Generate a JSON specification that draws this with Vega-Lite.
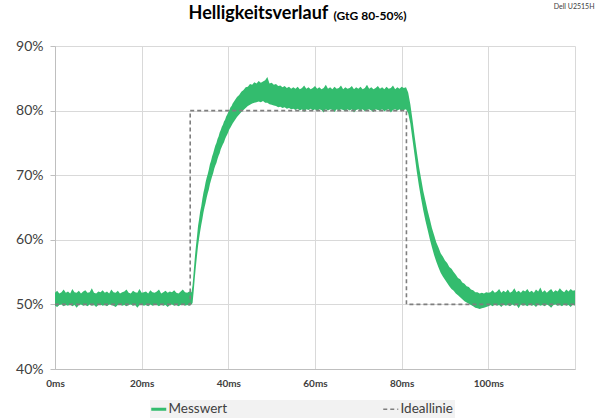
{
  "$schema": "https://vega.github.io/schema/vega-lite/v6.json",
  "width": 520,
  "height": 323,
  "autosize": {"type": "none"},
  "padding": {"left": 55, "top": 46, "right": 25, "bottom": 51},
  "background": "white",
  "config": {
    "view": {"stroke": null},
    "font": "Lato"
  },
  "title": {
    "text": "Helligkeitsverlauf",
    "anchor": "start",
    "dx": 173,
    "dy": 29,
    "font": "Lato",
    "fontSize": 18,
    "fontWeight": "bold",
    "color": "#000000",
    "offset": 8
  },
  "datasets": {
    "mess": [
      {"t":0,"lo":49.8,"hi":51.8},{"t":0.5,"lo":49.6,"hi":52.1},{"t":1,"lo":49.9,"hi":51.7},{"t":1.5,"lo":50.0,"hi":51.9},
      {"t":2,"lo":49.7,"hi":52.3},{"t":2.5,"lo":49.9,"hi":51.8},{"t":3,"lo":49.8,"hi":52.0},{"t":3.5,"lo":50.0,"hi":51.7},
      {"t":4,"lo":49.7,"hi":52.4},{"t":4.5,"lo":49.9,"hi":51.9},{"t":5,"lo":49.5,"hi":51.8},{"t":5.5,"lo":49.9,"hi":52.1},
      {"t":6,"lo":50.0,"hi":51.7},{"t":6.5,"lo":49.8,"hi":52.0},{"t":7,"lo":49.9,"hi":52.2},{"t":7.5,"lo":49.7,"hi":51.8},
      {"t":8,"lo":50.0,"hi":51.9},{"t":8.5,"lo":49.8,"hi":52.5},{"t":9,"lo":49.9,"hi":51.8},{"t":9.5,"lo":49.6,"hi":51.7},
      {"t":10,"lo":49.9,"hi":52.0},{"t":10.5,"lo":50.0,"hi":51.9},{"t":11,"lo":49.8,"hi":52.2},{"t":11.5,"lo":49.9,"hi":51.8},
      {"t":12,"lo":49.7,"hi":52.0},{"t":12.5,"lo":50.0,"hi":51.7},{"t":13,"lo":49.9,"hi":52.3},{"t":13.5,"lo":49.8,"hi":51.9},
      {"t":14,"lo":49.6,"hi":51.8},{"t":14.5,"lo":49.9,"hi":52.1},{"t":15,"lo":50.0,"hi":51.7},{"t":15.5,"lo":49.8,"hi":51.9},
      {"t":16,"lo":49.9,"hi":52.0},{"t":16.5,"lo":49.7,"hi":52.3},{"t":17,"lo":49.9,"hi":51.8},{"t":17.5,"lo":50.0,"hi":51.7},
      {"t":18,"lo":49.8,"hi":52.1},{"t":18.5,"lo":49.9,"hi":51.9},{"t":19,"lo":49.5,"hi":51.8},{"t":19.5,"lo":49.9,"hi":52.4},
      {"t":20,"lo":50.0,"hi":51.8},{"t":20.5,"lo":49.8,"hi":51.9},{"t":21,"lo":49.9,"hi":52.0},{"t":21.5,"lo":49.7,"hi":51.7},
      {"t":22,"lo":50.0,"hi":52.2},{"t":22.5,"lo":49.8,"hi":51.9},{"t":23,"lo":49.9,"hi":51.8},{"t":23.5,"lo":49.9,"hi":52.0},
      {"t":24,"lo":49.7,"hi":52.3},{"t":24.5,"lo":50.0,"hi":51.7},{"t":25,"lo":49.8,"hi":51.9},{"t":25.5,"lo":49.9,"hi":52.1},
      {"t":26,"lo":49.6,"hi":51.8},{"t":26.5,"lo":49.9,"hi":52.0},{"t":27,"lo":50.0,"hi":51.9},{"t":27.5,"lo":49.8,"hi":52.2},
      {"t":28,"lo":49.9,"hi":51.8},{"t":28.5,"lo":49.7,"hi":51.7},{"t":29,"lo":49.9,"hi":52.0},{"t":29.5,"lo":50.0,"hi":52.3},
      {"t":30,"lo":49.8,"hi":51.9},{"t":30.5,"lo":49.9,"hi":51.8},{"t":31,"lo":49.8,"hi":52.0},{"t":31.5,"lo":50.0,"hi":51.9},
      {"t":31.75,"lo":50.2,"hi":53.0},{"t":32,"lo":52.0,"hi":55.0},{"t":32.25,"lo":54.0,"hi":57.1},{"t":32.5,"lo":55.8,"hi":58.9},
      {"t":32.75,"lo":57.4,"hi":60.4},{"t":33,"lo":59.0,"hi":62.1},{"t":33.25,"lo":60.2,"hi":63.2},{"t":33.5,"lo":61.3,"hi":64.4},
      {"t":33.75,"lo":62.3,"hi":65.2},{"t":34,"lo":63.2,"hi":66.3},{"t":34.25,"lo":64.2,"hi":67.3},{"t":34.5,"lo":65.0,"hi":68.0},
      {"t":34.75,"lo":65.7,"hi":68.9},{"t":35,"lo":66.5,"hi":69.6},{"t":35.25,"lo":67.2,"hi":70.2},{"t":35.5,"lo":67.8,"hi":70.9},
      {"t":35.75,"lo":68.6,"hi":71.7},{"t":36,"lo":69.2,"hi":72.2},{"t":36.25,"lo":69.8,"hi":72.9},{"t":36.5,"lo":70.3,"hi":73.4},
      {"t":36.75,"lo":71.0,"hi":74.0},{"t":37,"lo":71.5,"hi":74.6},{"t":37.25,"lo":71.9,"hi":75.0},{"t":37.5,"lo":72.5,"hi":75.6},
      {"t":37.75,"lo":73.0,"hi":76.0},{"t":38,"lo":73.4,"hi":76.6},{"t":38.25,"lo":74.0,"hi":77.0},{"t":38.5,"lo":74.4,"hi":77.5},
      {"t":38.75,"lo":74.8,"hi":77.8},{"t":39,"lo":75.1,"hi":78.3},{"t":39.25,"lo":75.6,"hi":78.6},{"t":39.5,"lo":76.0,"hi":79.1},
      {"t":39.75,"lo":76.3,"hi":79.4},{"t":40,"lo":76.7,"hi":79.8},{"t":40.25,"lo":77.1,"hi":80.1},{"t":40.5,"lo":77.4,"hi":80.5},
      {"t":40.75,"lo":77.7,"hi":80.7},{"t":41,"lo":78.0,"hi":81.1},{"t":41.5,"lo":78.5,"hi":81.6},{"t":42,"lo":79.0,"hi":82.1},
      {"t":42.5,"lo":79.4,"hi":82.4},{"t":43,"lo":79.8,"hi":82.9},{"t":43.5,"lo":80.1,"hi":83.2},{"t":44,"lo":80.4,"hi":83.6},
      {"t":44.5,"lo":80.7,"hi":83.7},{"t":45,"lo":80.9,"hi":84.1},{"t":45.5,"lo":81.1,"hi":84.0},{"t":46,"lo":81.2,"hi":84.4},
      {"t":46.5,"lo":81.3,"hi":84.2},{"t":47,"lo":81.4,"hi":84.6},{"t":47.5,"lo":81.3,"hi":84.3},{"t":48,"lo":81.5,"hi":84.5},
      {"t":48.5,"lo":81.2,"hi":84.7},{"t":49,"lo":81.2,"hi":85.2},{"t":49.5,"lo":81.0,"hi":84.2},{"t":50,"lo":80.9,"hi":84.3},
      {"t":50.5,"lo":80.8,"hi":84.0},{"t":51,"lo":80.7,"hi":84.1},{"t":51.5,"lo":80.5,"hi":83.8},{"t":52,"lo":80.6,"hi":83.9},
      {"t":52.5,"lo":80.4,"hi":83.6},{"t":53,"lo":80.5,"hi":83.8},{"t":53.5,"lo":80.3,"hi":83.5},{"t":54,"lo":80.4,"hi":83.7},
      {"t":54.5,"lo":80.2,"hi":83.4},{"t":55,"lo":80.3,"hi":83.6},
      {"t":55.5,"lo":80.1,"hi":83.4},{"t":56,"lo":80.3,"hi":83.7},{"t":56.5,"lo":80.0,"hi":83.3},{"t":57,"lo":80.2,"hi":83.5},
      {"t":57.5,"lo":79.8,"hi":83.9},{"t":58,"lo":80.2,"hi":83.4},{"t":58.5,"lo":80.1,"hi":83.6},{"t":59,"lo":80.3,"hi":83.3},
      {"t":59.5,"lo":80.0,"hi":83.5},{"t":60,"lo":80.2,"hi":83.8},{"t":60.5,"lo":79.9,"hi":83.4},{"t":61,"lo":80.2,"hi":83.6},
      {"t":61.5,"lo":80.1,"hi":83.3},{"t":62,"lo":79.7,"hi":83.5},{"t":62.5,"lo":80.2,"hi":84.0},{"t":63,"lo":80.0,"hi":83.4},
      {"t":63.5,"lo":80.2,"hi":83.6},{"t":64,"lo":80.1,"hi":83.3},{"t":64.5,"lo":79.8,"hi":83.7},{"t":65,"lo":80.2,"hi":83.4},
      {"t":65.5,"lo":80.0,"hi":83.5},{"t":66,"lo":80.2,"hi":83.9},{"t":66.5,"lo":80.1,"hi":83.3},{"t":67,"lo":79.9,"hi":83.6},
      {"t":67.5,"lo":80.2,"hi":83.4},{"t":68,"lo":80.0,"hi":83.5},{"t":68.5,"lo":80.2,"hi":83.8},{"t":69,"lo":79.7,"hi":83.3},
      {"t":69.5,"lo":80.1,"hi":83.6},{"t":70,"lo":80.2,"hi":83.4},{"t":70.5,"lo":80.0,"hi":83.7},{"t":71,"lo":80.2,"hi":83.3},
      {"t":71.5,"lo":79.9,"hi":83.5},{"t":72,"lo":80.1,"hi":84.0},{"t":72.5,"lo":80.2,"hi":83.4},{"t":73,"lo":80.0,"hi":83.6},
      {"t":73.5,"lo":79.8,"hi":83.3},{"t":74,"lo":80.2,"hi":83.5},{"t":74.5,"lo":80.1,"hi":83.8},{"t":75,"lo":80.0,"hi":83.4},
      {"t":75.5,"lo":80.2,"hi":83.6},{"t":76,"lo":79.9,"hi":83.3},{"t":76.5,"lo":80.1,"hi":83.7},{"t":77,"lo":80.2,"hi":83.4},
      {"t":77.5,"lo":79.7,"hi":83.5},{"t":78,"lo":80.1,"hi":83.9},{"t":78.5,"lo":80.2,"hi":83.3},{"t":79,"lo":80.0,"hi":83.6},
      {"t":79.5,"lo":80.2,"hi":83.4},{"t":80,"lo":79.9,"hi":83.7},{"t":80.5,"lo":80.1,"hi":83.5},{"t":81,"lo":80.2,"hi":83.6},
      {"t":81.5,"lo":79.6,"hi":82.8},{"t":82,"lo":78.0,"hi":81.0},{"t":82.5,"lo":75.5,"hi":78.6},{"t":83,"lo":73.0,"hi":76.0},
      {"t":83.5,"lo":70.5,"hi":73.6},{"t":84,"lo":68.3,"hi":71.3},{"t":84.5,"lo":66.3,"hi":69.4},{"t":85,"lo":64.5,"hi":67.5},
      {"t":85.5,"lo":62.9,"hi":66.0},{"t":86,"lo":61.5,"hi":64.5},{"t":86.5,"lo":60.1,"hi":63.2},{"t":87,"lo":58.8,"hi":61.8},
      {"t":87.5,"lo":57.6,"hi":60.7},{"t":88,"lo":56.6,"hi":59.6},{"t":88.5,"lo":55.7,"hi":58.8},{"t":89,"lo":54.9,"hi":57.9},
      {"t":89.5,"lo":54.3,"hi":57.4},{"t":90,"lo":53.8,"hi":56.8},{"t":90.5,"lo":53.3,"hi":56.4},{"t":91,"lo":52.8,"hi":55.8},
      {"t":91.5,"lo":52.4,"hi":55.5},{"t":92,"lo":52.1,"hi":55.0},{"t":92.5,"lo":51.7,"hi":54.6},{"t":93,"lo":51.4,"hi":54.1},
      {"t":93.5,"lo":51.1,"hi":53.9},{"t":94,"lo":50.8,"hi":53.4},{"t":94.5,"lo":50.5,"hi":53.2},{"t":95,"lo":50.3,"hi":52.8},
      {"t":95.5,"lo":50.1,"hi":52.7},{"t":96,"lo":49.9,"hi":52.3},{"t":96.5,"lo":49.7,"hi":52.2},{"t":97,"lo":49.5,"hi":51.9},
      {"t":97.5,"lo":49.4,"hi":51.9},{"t":98,"lo":49.3,"hi":51.7},{"t":98.5,"lo":49.4,"hi":51.8},{"t":99,"lo":49.5,"hi":51.7},
      {"t":99.5,"lo":49.6,"hi":51.9},{"t":100,"lo":49.7,"hi":51.8},
      {"t":100.5,"lo":49.9,"hi":51.9},{"t":101,"lo":49.7,"hi":52.2},{"t":101.5,"lo":50.0,"hi":51.8},{"t":102,"lo":49.8,"hi":52.0},
      {"t":102.5,"lo":49.9,"hi":52.4},{"t":103,"lo":49.6,"hi":51.8},{"t":103.5,"lo":50.0,"hi":52.1},{"t":104,"lo":49.8,"hi":51.9},
      {"t":104.5,"lo":49.9,"hi":52.3},{"t":105,"lo":49.7,"hi":51.8},{"t":105.5,"lo":50.0,"hi":52.0},{"t":106,"lo":49.8,"hi":52.5},
      {"t":106.5,"lo":49.9,"hi":51.9},{"t":107,"lo":49.4,"hi":52.1},{"t":107.5,"lo":50.0,"hi":51.8},{"t":108,"lo":49.8,"hi":52.2},
      {"t":108.5,"lo":49.9,"hi":52.0},{"t":109,"lo":49.7,"hi":52.4},{"t":109.5,"lo":50.0,"hi":51.9},{"t":110,"lo":49.8,"hi":52.1},
      {"t":110.5,"lo":49.9,"hi":51.8},{"t":111,"lo":49.6,"hi":52.3},{"t":111.5,"lo":50.0,"hi":52.0},{"t":112,"lo":49.8,"hi":52.6},
      {"t":112.5,"lo":49.9,"hi":51.9},{"t":113,"lo":49.7,"hi":52.2},{"t":113.5,"lo":50.0,"hi":51.8},{"t":114,"lo":49.8,"hi":52.1},
      {"t":114.5,"lo":49.5,"hi":52.4},{"t":115,"lo":49.9,"hi":51.9},{"t":115.5,"lo":50.0,"hi":52.2},{"t":116,"lo":49.8,"hi":52.0},
      {"t":116.5,"lo":49.9,"hi":52.5},{"t":117,"lo":49.7,"hi":52.1},{"t":117.5,"lo":50.0,"hi":51.9},{"t":118,"lo":49.8,"hi":52.3},
      {"t":118.5,"lo":49.9,"hi":52.0},{"t":119,"lo":49.6,"hi":52.4},{"t":119.5,"lo":50.0,"hi":52.1},{"t":120,"lo":49.8,"hi":52.2}
    ],
    "ideal": [
      {"t":0,"v":50,"o":1},{"t":31.2,"v":50,"o":2},{"t":31.2,"v":80,"o":3},
      {"t":81.1,"v":80,"o":4},{"t":81.1,"v":50,"o":5},{"t":120,"v":50,"o":6}
    ]
  },
  "resolve": {"axis": {"x": "independent", "y": "independent"}},
  "layer": [
    {
      "data": {"name": "mess"},
      "mark": {"type": "area", "opacity": 1},
      "encoding": {
        "x": {
          "field": "t", "type": "quantitative",
          "scale": {"domain": [0, 120], "nice": false, "zero": false},
          "axis": {
            "title": null,
            "values": [0,10,20,30,40,50,60,70,80,90,100,110,120],
            "labelExpr": "datum.value % 20 === 0 && datum.value < 120 ? datum.value + 'ms' : ''",
            "labelFont": "Lato", "labelFontSize": 10, "labelFontWeight": "bold", "labelColor": "#404040",
            "labelFlush": false, "labelOverlap": false, "labelPadding": 9,
            "ticks": false,
            "grid": true, "gridColor": "#d9d9d9",
            "gridOpacity": {"condition": {"test": "datum.value % 20 === 0", "value": 1}, "value": 0},
            "domainColor": "#bfbfbf"
          }
        },
        "y": {
          "field": "lo", "type": "quantitative",
          "scale": {"domain": [40, 90], "nice": false, "zero": false},
          "axis": {
            "title": null,
            "values": [40,50,60,70,80,90],
            "labelExpr": "datum.value + '%'",
            "labelFont": "Lato", "labelFontSize": 14, "labelColor": "#404040", "labelPadding": 7,
            "tickSize": 5, "tickColor": "#bfbfbf",
            "grid": true, "gridColor": "#d9d9d9",
            "domainColor": "#bfbfbf"
          }
        },
        "y2": {"field": "hi"},
        "color": {
          "datum": "Messwert",
          "type": "nominal",
          "scale": {"domain": ["Messwert", "Ideallinie"], "range": ["#33bc6e", "#7f7f7f"]},
          "legend": {
            "title": null,
            "orient": "none",
            "legendX": 95,
            "legendY": 354,
            "direction": "horizontal",
            "symbolType": "stroke",
            "symbolSize": 225,
            "symbolStrokeWidth": 3,
            "labelFont": "Lato", "labelFontSize": 13.5, "labelColor": "#404040",
            "labelOffset": 3,
            "columnPadding": 152,
            "padding": 2,
            "fillColor": "#f2f2f2",
            "encoding": {
              "symbols": {
                "stroke": {"value": {"expr": "datum.value === 'Ideallinie' ? '#7f7f7f' : '#33bc6e'"}},
                "strokeDash": {"value": {"expr": "datum.value === 'Ideallinie' ? [4, 3] : [1, 0]"}},
                "strokeWidth": {"value": {"expr": "datum.value === 'Ideallinie' ? 1.5 : 3"}}
              }
            }
          }
        }
      }
    },
    {
      "data": {"name": "ideal"},
      "mark": {"type": "line", "strokeDash": [4, 3], "strokeWidth": 1.6, "interpolate": "linear"},
      "encoding": {
        "x": {
          "field": "t", "type": "quantitative",
          "axis": {
            "orient": "top", "title": "(GtG 80-50%)",
            "labels": false, "ticks": false, "domain": false, "grid": false,
            "titleFont": "Lato", "titleFontSize": 12, "titleFontWeight": "bold", "titleColor": "#000000",
            "titleAnchor": "start", "titleAlign": "left", "titleBaseline": "alphabetic",
            "titleX": 278, "titleY": -27
          }
        },
        "y": {
          "field": "v", "type": "quantitative",
          "axis": {
            "orient": "right", "title": "Dell U2515H",
            "labels": false, "ticks": false, "domain": false, "grid": false,
            "titleFont": "Lato", "titleFontSize": 7, "titleFontWeight": "normal", "titleColor": "#404040",
            "titleAngle": 0, "titleAlign": "right", "titleBaseline": "alphabetic",
            "titleX": 19, "titleY": -38
          }
        },
        "order": {"field": "o", "type": "quantitative"},
        "color": {"datum": "Ideallinie", "type": "nominal"}
      }
    }
  ]
}
